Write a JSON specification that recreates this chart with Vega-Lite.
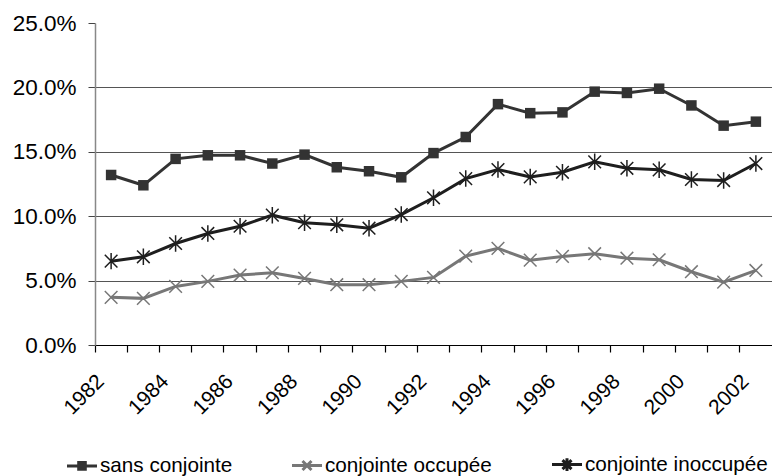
{
  "$schema": "https://vega.github.io/schema/vega-lite/v6.json",
  "width": 677,
  "height": 322,
  "autosize": {"type": "none"},
  "padding": {"left": 95, "top": 23, "right": 0, "bottom": 131},
  "background": "white",
  "config": {
    "font": "Liberation Sans",
    "view": {"stroke": null},
    "axis": {"labelFont": "Liberation Sans", "labelFontSize": 21, "labelColor": "#000", "titleFont": "Liberation Sans"},
    "legend": {"labelFont": "Liberation Sans", "labelFontSize": 20.7, "labelColor": "#000"}
  },
  "data": {
    "values": [
      {"year": 1982, "series": "sans conjointe", "value": 0.132},
      {"year": 1983, "series": "sans conjointe", "value": 0.124},
      {"year": 1984, "series": "sans conjointe", "value": 0.1445},
      {"year": 1985, "series": "sans conjointe", "value": 0.1473},
      {"year": 1986, "series": "sans conjointe", "value": 0.1473},
      {"year": 1987, "series": "sans conjointe", "value": 0.1409},
      {"year": 1988, "series": "sans conjointe", "value": 0.1478},
      {"year": 1989, "series": "sans conjointe", "value": 0.138},
      {"year": 1990, "series": "sans conjointe", "value": 0.1349},
      {"year": 1991, "series": "sans conjointe", "value": 0.1302},
      {"year": 1992, "series": "sans conjointe", "value": 0.149},
      {"year": 1993, "series": "sans conjointe", "value": 0.1615},
      {"year": 1994, "series": "sans conjointe", "value": 0.187},
      {"year": 1995, "series": "sans conjointe", "value": 0.18},
      {"year": 1996, "series": "sans conjointe", "value": 0.1806},
      {"year": 1997, "series": "sans conjointe", "value": 0.1967},
      {"year": 1998, "series": "sans conjointe", "value": 0.1957},
      {"year": 1999, "series": "sans conjointe", "value": 0.199},
      {"year": 2000, "series": "sans conjointe", "value": 0.186},
      {"year": 2001, "series": "sans conjointe", "value": 0.1703},
      {"year": 2002, "series": "sans conjointe", "value": 0.1734},
      {"year": 1982, "series": "conjointe occupée", "value": 0.037},
      {"year": 1983, "series": "conjointe occupée", "value": 0.0362},
      {"year": 1984, "series": "conjointe occupée", "value": 0.0455},
      {"year": 1985, "series": "conjointe occupée", "value": 0.0494},
      {"year": 1986, "series": "conjointe occupée", "value": 0.0543},
      {"year": 1987, "series": "conjointe occupée", "value": 0.0561},
      {"year": 1988, "series": "conjointe occupée", "value": 0.0517},
      {"year": 1989, "series": "conjointe occupée", "value": 0.0468},
      {"year": 1990, "series": "conjointe occupée", "value": 0.0468},
      {"year": 1991, "series": "conjointe occupée", "value": 0.0494},
      {"year": 1992, "series": "conjointe occupée", "value": 0.0525},
      {"year": 1993, "series": "conjointe occupée", "value": 0.069},
      {"year": 1994, "series": "conjointe occupée", "value": 0.075},
      {"year": 1995, "series": "conjointe occupée", "value": 0.0659},
      {"year": 1996, "series": "conjointe occupée", "value": 0.0688},
      {"year": 1997, "series": "conjointe occupée", "value": 0.0709},
      {"year": 1998, "series": "conjointe occupée", "value": 0.0674},
      {"year": 1999, "series": "conjointe occupée", "value": 0.0662},
      {"year": 2000, "series": "conjointe occupée", "value": 0.0569},
      {"year": 2001, "series": "conjointe occupée", "value": 0.0488},
      {"year": 2002, "series": "conjointe occupée", "value": 0.0579},
      {"year": 1982, "series": "conjointe inoccupée", "value": 0.0651},
      {"year": 1983, "series": "conjointe inoccupée", "value": 0.0685},
      {"year": 1984, "series": "conjointe inoccupée", "value": 0.0788},
      {"year": 1985, "series": "conjointe inoccupée", "value": 0.0866},
      {"year": 1986, "series": "conjointe inoccupée", "value": 0.0922},
      {"year": 1987, "series": "conjointe inoccupée", "value": 0.1008},
      {"year": 1988, "series": "conjointe inoccupée", "value": 0.0949},
      {"year": 1989, "series": "conjointe inoccupée", "value": 0.0933},
      {"year": 1990, "series": "conjointe inoccupée", "value": 0.0907},
      {"year": 1991, "series": "conjointe inoccupée", "value": 0.1013},
      {"year": 1992, "series": "conjointe inoccupée", "value": 0.1143},
      {"year": 1993, "series": "conjointe inoccupée", "value": 0.1292},
      {"year": 1994, "series": "conjointe inoccupée", "value": 0.1362},
      {"year": 1995, "series": "conjointe inoccupée", "value": 0.1305},
      {"year": 1996, "series": "conjointe inoccupée", "value": 0.1341},
      {"year": 1997, "series": "conjointe inoccupée", "value": 0.1422},
      {"year": 1998, "series": "conjointe inoccupée", "value": 0.1372},
      {"year": 1999, "series": "conjointe inoccupée", "value": 0.136},
      {"year": 2000, "series": "conjointe inoccupée", "value": 0.1285},
      {"year": 2001, "series": "conjointe inoccupée", "value": 0.1277},
      {"year": 2002, "series": "conjointe inoccupée", "value": 0.1409}
    ]
  },
  "encoding": {
    "x": {
      "field": "year",
      "type": "ordinal",
      "scale": {"type": "band", "paddingInner": 0, "paddingOuter": 0},
      "axis": {
        "title": null,
        "bandPosition": 0,
        "labelAngle": -45,
        "labelAlign": "right",
        "labelBaseline": "middle",
        "labelPadding": 26,
        "labelOffset": -10,
        "labelExpr": "datum.value % 2 == 0 ? datum.label : ''",
        "domainColor": "#000",
        "domainWidth": 1.2,
        "tickColor": "#000",
        "tickSize": 7,
        "tickWidth": 1.2,
        "grid": false
      }
    },
    "y": {
      "field": "value",
      "type": "quantitative",
      "scale": {"domain": [0, 0.25], "nice": false, "zero": true},
      "axis": {
        "title": null,
        "values": [0, 0.05, 0.1, 0.15, 0.2, 0.25],
        "format": ".1%",
        "labelFontSize": 22.5,
        "labelPadding": 12,
        "domainColor": "#888",
        "domainWidth": 1.5,
        "tickColor": "#444",
        "tickSize": 7,
        "grid": true,
        "gridColor": "#555",
        "gridWidth": 1,
        "gridOpacity": {"condition": {"test": "datum.value >= 0.25 || datum.value <= 0", "value": 0}, "value": 1}
      }
    }
  },
  "layer": [
    {
      "mark": {"type": "line", "strokeWidth": 3},
      "encoding": {
        "color": {
          "field": "series",
          "type": "nominal",
          "sort": ["sans conjointe", "conjointe occupée", "conjointe inoccupée"],
          "scale": {
            "domain": ["sans conjointe", "conjointe occupée", "conjointe inoccupée"],
            "range": ["#333333", "#777777", "#1e1e1e"]
          },
          "legend": {
            "title": null,
            "orient": "none",
            "direction": "horizontal",
            "legendX": -29.5,
            "legendY": 425,
            "symbolSize": 900,
            "symbolStrokeWidth": 3,
            "labelOffset": 1.5,
            "columnPadding": 53,
            "labelLimit": 400,
            "padding": 0,
            "encode": {
              "symbols": {
                "update": {
                  "shape": {"signal": "datum.value === 'sans conjointe' ? 'M-1,0H1M-0.22,-0.22H0.22V0.22H-0.22Z' : (datum.value === 'conjointe occupée' ? 'M-1,0H1M-0.3,-0.3L0.3,0.3M-0.3,0.3L0.3,-0.3' : 'M-1,0H1M-0.3,-0.3L0.3,0.3M-0.3,0.3L0.3,-0.3M0,-0.42V0.42')"},
                  "fill": {"scale": "color", "field": "value"},
                  "stroke": {"scale": "color", "field": "value"},
                  "strokeWidth": {"value": 3}
                }
              }
            }
          }
        }
      }
    },
    {
      "transform": [{"filter": "datum.series === 'sans conjointe'"}],
      "mark": {"type": "point", "shape": "square", "filled": true, "size": 110, "color": "#333333", "opacity": 1}
    },
    {
      "transform": [{"filter": "datum.series !== 'sans conjointe'"}],
      "mark": {"type": "point", "filled": false, "size": 160, "strokeWidth": 1.5, "opacity": 1},
      "encoding": {
        "color": {"field": "series", "type": "nominal", "legend": null},
        "shape": {
          "field": "series",
          "type": "nominal",
          "scale": {
            "domain": ["conjointe occupée", "conjointe inoccupée"],
            "range": ["M-1,-1L1,1M-1,1L1,-1", "M-1,-1L1,1M-1,1L1,-1M0,-1.3V1.3"]
          },
          "legend": null
        }
      }
    }
  ]
}
